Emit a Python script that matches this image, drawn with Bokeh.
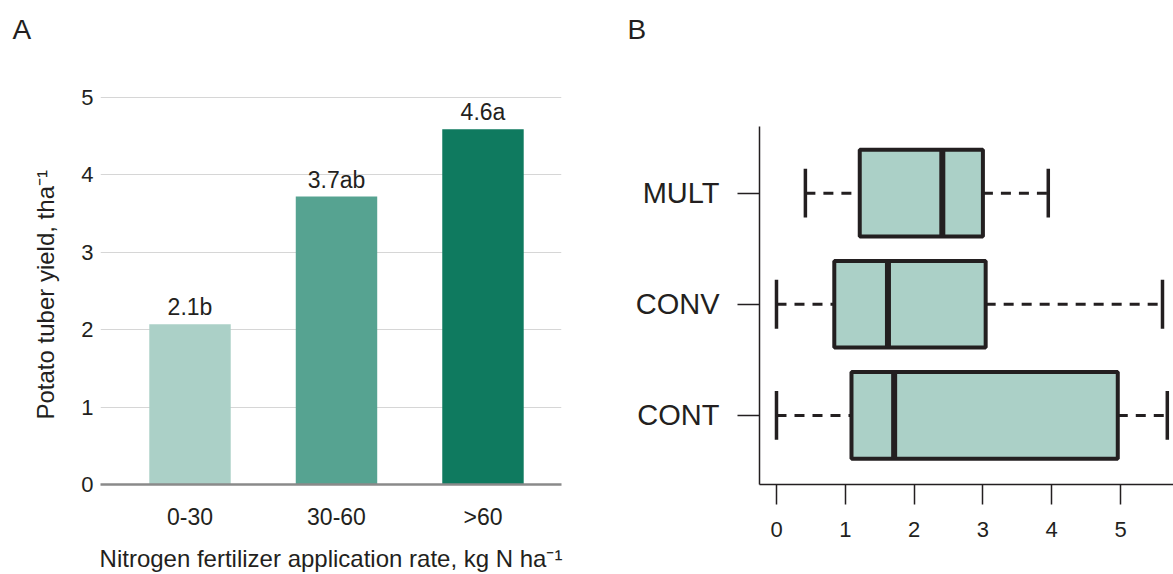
from bokeh.plotting import figure
from bokeh.layouts import row, column
from bokeh.models import Range1d, FixedTicker, Title, ColumnDataSource
from bokeh.core.properties import value
from bokeh.embed import file_html
from bokeh.resources import INLINE

# ---- data: panel A ----
rates = ["0-30", "30-60", ">60"]
yield_means = [2.07, 3.72, 4.59]
yield_letters = ["2.1b", "3.7ab", "4.6a"]
yield_ticks = [0, 1, 2, 3, 4, 5]

# ---- data: panel B ----
systems = ["CONT", "CONV", "MULT"]
whisker_low = [0.0, 0.0, 0.42]
q1 = [1.09, 0.84, 1.21]
median = [1.71, 1.62, 2.41]
q3 = [4.96, 3.04, 3.00]
whisker_high = [5.68, 5.61, 3.95]
b_ticks = [0, 1, 2, 3, 4, 5]

FONT = "Liberation Sans"
INK = "#231f20"
bar_colors = ["#abd0c7", "#56a391", "#0f7a5f"]
box_fill = "#abd0c7"

H = 574
TOP = 54

# ================= Panel A =================
xpos = list(range(1, len(rates) + 1))
src_a = ColumnDataSource(dict(x=xpos, top=yield_means, label=yield_letters, color=bar_colors))

pa = figure(width=600, height=H, x_range=Range1d(0.389, 3.536), y_range=Range1d(0, 5.556),
            output_backend="svg", toolbar_location=None,
            min_border_left=100, min_border_right=39, min_border_top=TOP, min_border_bottom=85)
pa.outline_line_color = None

pa.vbar(x="x", top="top", bottom=0, width=0.556, fill_color="color", line_color=None, source=src_a)
pa.text(x="x", y="top", text="label", source=src_a, text_align="center", text_baseline="bottom",
        y_offset=-4, text_font=value(FONT), text_font_size="23px", text_color=INK)

pa.xgrid.visible = False
pa.ygrid.grid_line_color = "#d6d6d6"
pa.ygrid.grid_line_width = 1.2

pa.xaxis.ticker = FixedTicker(ticks=xpos)
pa.xaxis.major_label_overrides = {x: r for x, r in zip(xpos, rates)}
pa.xaxis.axis_line_color = "#8a8a8a"
pa.xaxis.axis_line_width = 2.5
pa.xaxis.major_tick_line_color = None
pa.xaxis.major_tick_out = 0
pa.xaxis.major_tick_in = 0
pa.xaxis.minor_tick_line_color = None
pa.xaxis.major_label_standoff = 19
pa.xaxis.major_label_text_font = FONT
pa.xaxis.major_label_text_font_size = "23px"
pa.xaxis.major_label_text_color = INK
pa.xaxis.axis_label = "Nitrogen fertilizer application rate, kg N ha\u207b\u00b9"
pa.xaxis.axis_label_text_font = FONT
pa.xaxis.axis_label_text_font_style = "normal"
pa.xaxis.axis_label_text_font_size = "24px"
pa.xaxis.axis_label_text_color = INK
pa.xaxis.axis_label_standoff = 12

pa.yaxis.ticker = FixedTicker(ticks=yield_ticks)
pa.yaxis.axis_line_color = None
pa.yaxis.major_tick_line_color = None
pa.yaxis.major_tick_out = 0
pa.yaxis.major_tick_in = 0
pa.yaxis.minor_tick_line_color = None
pa.yaxis.major_label_standoff = 7
pa.yaxis.major_label_text_font = FONT
pa.yaxis.major_label_text_font_size = "22px"
pa.yaxis.major_label_text_color = INK

pa.add_layout(Title(text="Potato tuber yield, tha\u207b\u00b9", align="left", offset=65,
                    vertical_align="bottom", standoff=39, text_font=FONT,
                    text_font_size="24px", text_font_style="normal", text_color=INK), "left")
pa.add_layout(Title(text="A", align="left", offset=-88, vertical_align="bottom", standoff=20,
                    text_font=FONT, text_font_size="28px", text_font_style="normal",
                    text_color=INK), "above")

# ================= Panel B =================
ypos = list(range(1, len(systems) + 1))
box_h = 0.78
cap_h = 0.44
spine_lo, spine_hi = 0.378, 3.60
src_b = ColumnDataSource(dict(
    y=ypos, low=whisker_low, q1=q1, med=median, q3=q3, high=whisker_high,
    y_lo=[y - box_h / 2 for y in ypos], y_hi=[y + box_h / 2 for y in ypos],
    c_lo=[y - cap_h / 2 for y in ypos], c_hi=[y + cap_h / 2 for y in ypos],
))

pb = figure(width=573, height=H, x_range=Range1d(-0.247, 5.770), y_range=Range1d(spine_lo, 4.248),
            output_backend="svg", toolbar_location=None,
            min_border_left=159, min_border_right=0, min_border_top=TOP, min_border_bottom=90)
pb.outline_line_color = None
pb.grid.visible = False

# whiskers (dashed)
pb.segment(x0="low", x1="q1", y0="y", y1="y", source=src_b, line_color=INK, line_width=3,
           line_dash="10 8")
pb.segment(x0="q3", x1="high", y0="y", y1="y", source=src_b, line_color=INK, line_width=3,
           line_dash="10 8")
# caps
pb.segment(x0="low", x1="low", y0="c_lo", y1="c_hi", source=src_b, line_color=INK, line_width=3.5)
pb.segment(x0="high", x1="high", y0="c_lo", y1="c_hi", source=src_b, line_color=INK, line_width=3.5)
# boxes
pb.hbar(y="y", left="q1", right="q3", height=box_h, source=src_b, fill_color=box_fill,
        line_color=INK, line_width=4)
# medians
pb.segment(x0="med", x1="med", y0="y_lo", y1="y_hi", source=src_b, line_color=INK, line_width=6)

pb.xaxis.ticker = FixedTicker(ticks=b_ticks)
pb.xaxis.axis_line_color = INK
pb.xaxis.axis_line_width = 1.5
pb.xaxis.major_tick_line_color = INK
pb.xaxis.major_tick_line_width = 1.5
pb.xaxis.major_tick_out = 20
pb.xaxis.major_tick_in = 0
pb.xaxis.minor_tick_line_color = None
pb.xaxis.major_label_standoff = 17
pb.xaxis.major_label_text_font = FONT
pb.xaxis.major_label_text_font_size = "22px"
pb.xaxis.major_label_text_color = INK

pb.yaxis.bounds = (spine_lo, spine_hi)
pb.yaxis.ticker = FixedTicker(ticks=ypos)
pb.yaxis.major_label_overrides = {y: s for y, s in zip(ypos, systems)}
pb.yaxis.axis_line_color = INK
pb.yaxis.axis_line_width = 1.5
pb.yaxis.major_tick_line_color = INK
pb.yaxis.major_tick_line_width = 1.5
pb.yaxis.major_tick_out = 22
pb.yaxis.major_tick_in = 0
pb.yaxis.minor_tick_line_color = None
pb.yaxis.major_label_standoff = 18
pb.yaxis.major_label_text_font = FONT
pb.yaxis.major_label_text_font_size = "29px"
pb.yaxis.major_label_text_color = INK

pb.add_layout(Title(text="B", align="left", offset=-132, vertical_align="bottom", standoff=20,
                    text_font=FONT, text_font_size="28px", text_font_style="normal",
                    text_color=INK), "above")

layout = row(column(pa), column(pb))
open("out.html", "w").write(file_html(layout, INLINE))
